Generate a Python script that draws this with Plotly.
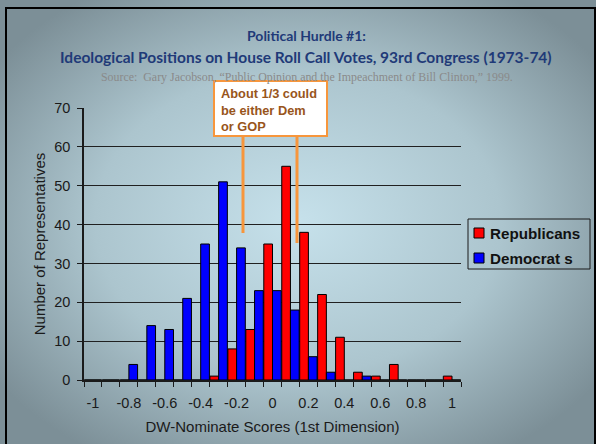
import base64
import plotly.graph_objects as go

# DW-Nominate bins (1st dimension) and counts per party
bins = ["-1", "-0.9", "-0.8", "-0.7", "-0.6", "-0.5", "-0.4", "-0.3", "-0.2", "-0.1", "0",
        "0.1", "0.2", "0.3", "0.4", "0.5", "0.6", "0.7", "0.8", "0.9", "1"]
republicans = [0, 0, 0, 0, 0, 0, 0, 1, 8, 13, 35, 55, 38, 22, 11, 2, 1, 4, 0, 0, 1]
democrats = [0, 0, 4, 14, 13, 21, 35, 51, 34, 23, 23, 18, 6, 2, 0, 1, 0, 0, 0, 0, 0]
tick_labels = ["-1", "", "-0.8", "", "-0.6", "", "-0.4", "", "-0.2", "", "0",
               "", "0.2", "", "0.4", "", "0.6", "", "0.8", "", "1"]
y_ticks = [0, 10, 20, 30, 40, 50, 60, 70]

W, H = 596, 444
L, R, T, B = 84, 461, 108, 380  # plot area in pixels


# pixel -> paper coordinates
def px(x):
    return (x - L) / (R - L)


def py(y):
    return (B - y) / (B - T)


# slide background with a soft radial gradient
svg = ("<svg xmlns='http://www.w3.org/2000/svg' width='596' height='444'>"
       "<defs><radialGradient id='g' cx='0.5' cy='0.5' r='0.62'>"
       "<stop offset='0' stop-color='#c6e1eb'/><stop offset='0.55' stop-color='#acc5ce'/>"
       "<stop offset='1' stop-color='#7c8f97'/></radialGradient></defs>"
       "<rect width='596' height='444' fill='url(#g)'/></svg>")
bg_src = "data:image/svg+xml;base64," + base64.b64encode(svg.encode()).decode()

fig = go.Figure()
fig.add_trace(go.Bar(x=bins, y=republicans, name="Republicans",
                     marker=dict(color="#ff0000", line=dict(color="black", width=1))))
fig.add_trace(go.Bar(x=bins, y=democrats, name="Democrat s",
                     marker=dict(color="#0000ff", line=dict(color="black", width=1))))

tick_font = dict(family="Liberation Sans, Arial", size=14.5, color="#1a1a1a")
title_font_ax = dict(family="Liberation Sans, Arial", size=15, color="#1a1a1a")

fig.update_layout(
    width=W, height=H,
    margin=dict(l=L, r=W - R, t=T, b=H - B, pad=0),
    barmode="group", bargap=0.03, bargroupgap=0,
    showlegend=False,
    paper_bgcolor="#8a9ca3",
    plot_bgcolor="rgba(0,0,0,0)",
    font=tick_font,
    images=[dict(source=bg_src, xref="paper", yref="paper", x=px(0), y=py(0),
                 sizex=W / (R - L), sizey=H / (B - T), xanchor="left", yanchor="top",
                 sizing="stretch", layer="below")],
)

fig.update_xaxes(
    type="category", tickmode="array", tickvals=bins, ticktext=tick_labels,
    tickson="boundaries", ticks="outside", ticklen=5, tickcolor="#1a1a1a",
    showline=True, linecolor="#1a1a1a", linewidth=1.5, showgrid=False,
    tickangle=0, ticklabelstandoff=9, tickfont=tick_font, automargin=False,
    title=dict(text="DW-Nominate Scores (1st Dimension)", font=title_font_ax, standoff=11),
)
fig.update_yaxes(
    range=[0, 70], tickmode="array", tickvals=y_ticks,
    ticks="outside", ticklen=5, tickcolor="#1a1a1a",
    showline=True, linecolor="#1a1a1a", linewidth=1.5,
    showgrid=True, gridcolor="#202020", gridwidth=1.3, zeroline=False,
    ticklabelstandoff=4, tickfont=tick_font, automargin=False,
    title=dict(text="Number of Representatives", font=title_font_ax, standoff=5),
)

shapes = []
annotations = []

# slide frame
for x0, y0, x1, y1 in [(6, 8, 6, H), (5, 8, W, 8), (595, 8, 595, H)]:
    shapes.append(dict(type="line", xref="paper", yref="paper", x0=px(x0), y0=py(y0),
                       x1=px(x1), y1=py(y1), line=dict(color="black", width=2)))

# titles
title_font = "Lato, Calibri, sans-serif"
annotations.append(dict(text="<b>Political Hurdle #1:</b>", x=px(306), y=py(25),
                        font=dict(family=title_font, size=14, color="#1f3a78")))
annotations.append(dict(text="<b>Ideological Positions on House Roll Call Votes, 93rd Congress (1973-74)</b>",
                        x=px(306), y=py(46), font=dict(family=title_font, size=15.5, color="#1f3a78")))
annotations.append(dict(text="Source:  Gary Jacobson, \u201cPublic Opinion and the Impeachment of Bill Clinton,\u201d 1999.",
                        x=px(307), y=py(68),
                        font=dict(family="Liberation Serif, Times New Roman", size=11.9, color="#8a8a8a")))

# callout box with pointer lines
orange = "#f7963c"
shapes.append(dict(type="rect", xref="paper", yref="paper", x0=px(214), y0=py(81),
                   x1=px(327), y1=py(136), fillcolor="white", line=dict(color=orange, width=2)))
for x, yend in [(243, 233), (297, 243)]:
    shapes.append(dict(type="line", xref="paper", yref="paper", x0=px(x), y0=py(137),
                       x1=px(x), y1=py(yend), line=dict(color=orange, width=3)))
annotations.append(dict(text="<b>About 1/3 could<br>be either Dem<br>or GOP</b>",
                        x=px(219), y=py(84), xanchor="left", yanchor="top", align="left",
                        font=dict(family="Liberation Sans, Arial", size=12.8, color="#98551b")))

# legend drawn by hand to match the slide
shapes.append(dict(type="rect", xref="paper", yref="paper", x0=px(468), y0=py(219),
                   x1=px(590), y1=py(269), line=dict(color="#1a1a1a", width=1)))
for i, tr in enumerate(fig.data):
    yc = 233 + 25 * i
    shapes.append(dict(type="rect", xref="paper", yref="paper", x0=px(474), y0=py(yc - 5),
                       x1=px(484), y1=py(yc + 5), fillcolor=tr.marker.color,
                       line=dict(color="black", width=1)))
    annotations.append(dict(text="<b>" + tr.name + "</b>", x=px(488), y=py(yc),
                            xanchor="left", yanchor="middle",
                            font=dict(family="Liberation Sans, Arial", size=15.2, color="#111111")))

for a in annotations:
    a.setdefault("xref", "paper")
    a.setdefault("yref", "paper")
    a.setdefault("showarrow", False)
fig.update_layout(shapes=shapes, annotations=annotations)

# drop the browser's default page margin so the figure sits at the window origin
fig.write_html("out.html", config={"displayModeBar": False},
               post_script="document.body.style.margin='0';document.body.style.overflow='hidden';")
